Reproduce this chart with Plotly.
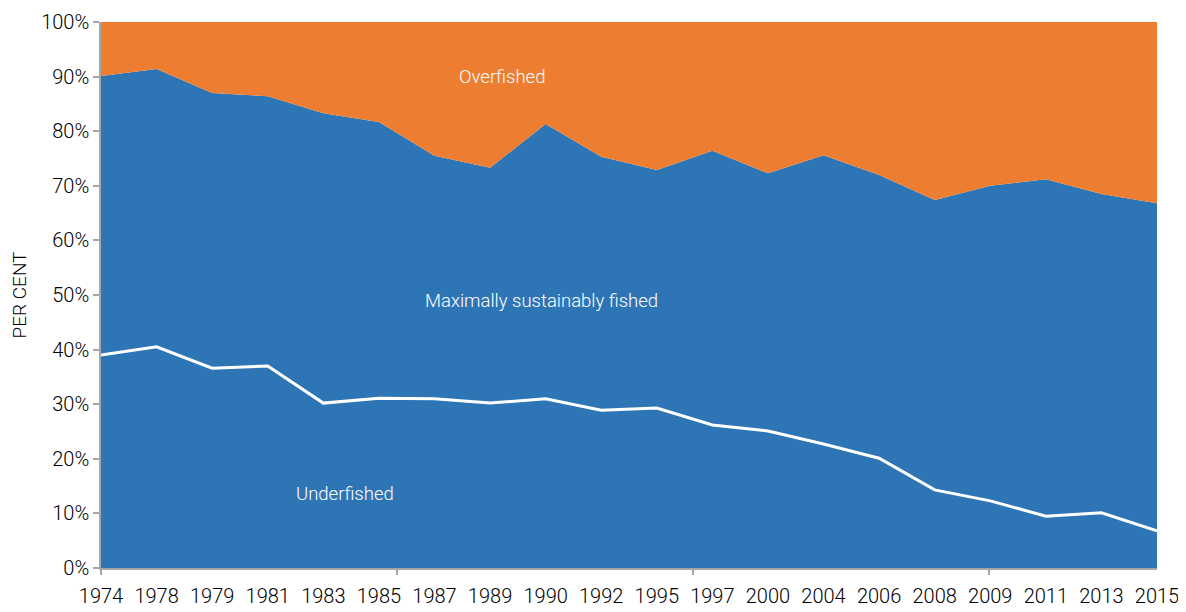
import plotly.graph_objects as go

years = ["1974", "1978", "1979", "1981", "1983", "1985", "1987", "1989", "1990", "1992",
         "1995", "1997", "2000", "2004", "2006", "2008", "2009", "2011", "2013", "2015"]
underfished = [39.0, 40.5, 36.6, 37.0, 30.2, 31.1, 31.0, 30.2, 31.0, 28.9,
               29.3, 26.2, 25.1, 22.7, 20.1, 14.3, 12.3, 9.5, 10.1, 6.8]
max_sustainably = [51.1, 50.9, 50.4, 49.4, 53.1, 50.6, 44.5, 43.1, 50.3, 46.4,
                   43.6, 50.2, 47.2, 52.9, 51.9, 53.1, 57.7, 61.7, 58.4, 60.0]
overfished = [9.9, 8.6, 13.0, 13.6, 16.7, 18.3, 24.5, 26.7, 18.7, 24.7,
              27.1, 23.6, 27.7, 24.4, 28.0, 32.6, 30.0, 28.8, 31.5, 33.2]
y_ticks = [0, 10, 20, 30, 40, 50, 60, 70, 80, 90, 100]
y_tick_labels = ["0%", "10%", "20%", "30%", "40%", "50%", "60%", "70%", "80%", "90%", "100%"]

BLUE = "#2E75B6"
ORANGE = "#ED7D31"
FONT = "Roboto, sans-serif"

fig = go.Figure()
fig.add_trace(go.Scatter(x=years, y=underfished, stackgroup="one", mode="none",
                         fillcolor=BLUE, name="Underfished", hoverinfo="skip"))
fig.add_trace(go.Scatter(x=years, y=max_sustainably, stackgroup="one", mode="none",
                         fillcolor=BLUE, name="Maximally sustainably fished", hoverinfo="skip"))
fig.add_trace(go.Scatter(x=years, y=overfished, stackgroup="one", mode="none",
                         fillcolor=ORANGE, name="Overfished", hoverinfo="skip"))
fig.add_trace(go.Scatter(x=years, y=underfished, mode="lines",
                         line=dict(color="white", width=3), hoverinfo="skip"))
# invisible trace for the tick-mark axis
fig.add_trace(go.Scatter(x=[0, 19], y=[0, 0], xaxis="x2", mode="none",
                         showlegend=False, hoverinfo="skip"))

fig.update_layout(
    width=1186, height=612,
    margin=dict(l=93, r=37, t=14, b=52, autoexpand=False),
    paper_bgcolor="white", plot_bgcolor="white",
    showlegend=False,
    font=dict(family=FONT, size=20, color="#000000", weight=300),
    xaxis=dict(type="category", range=[0, 19], showgrid=False, zeroline=False,
               showline=True, linecolor="#a6a6a6", linewidth=1.5,
               ticks="", tickfont=dict(size=20), ticklabelstandoff=9,
               automargin=False),
    xaxis2=dict(overlaying="x", range=[0, 19], showgrid=False, zeroline=False,
                showline=False, showticklabels=False,
                tickvals=[0, 5.33, 10.65, 15.97], ticks="outside", ticklen=6,
                tickcolor="#a6a6a6", tickwidth=1.5, anchor="y", side="bottom",
                automargin=False),
    yaxis=dict(range=[0, 100], tickvals=y_ticks, ticktext=y_tick_labels,
               showgrid=False, zeroline=False,
               showline=True, linecolor="#a6a6a6", linewidth=1.5,
               ticks="outside", ticklen=6, tickcolor="#a6a6a6", tickwidth=1.5,
               tickfont=dict(size=20), automargin=False,
               title=dict(text="PER CENT", font=dict(size=19), standoff=12)),
    annotations=[
        dict(text="Overfished", x=0.380, y=0.899, xref="paper", yref="paper",
             xanchor="center", yanchor="middle", showarrow=False,
             font=dict(color="white", size=18.5, family=FONT)),
        dict(text="Maximally sustainably fished", x=0.4176, y=0.489, xref="paper",
             yref="paper", xanchor="center", yanchor="middle", showarrow=False,
             font=dict(color="white", size=18.5, family=FONT)),
        dict(text="Underfished", x=0.231, y=0.1355, xref="paper", yref="paper",
             xanchor="center", yanchor="middle", showarrow=False,
             font=dict(color="white", size=18.5, family=FONT)),
    ],
)

fig.write_html("out.html")
